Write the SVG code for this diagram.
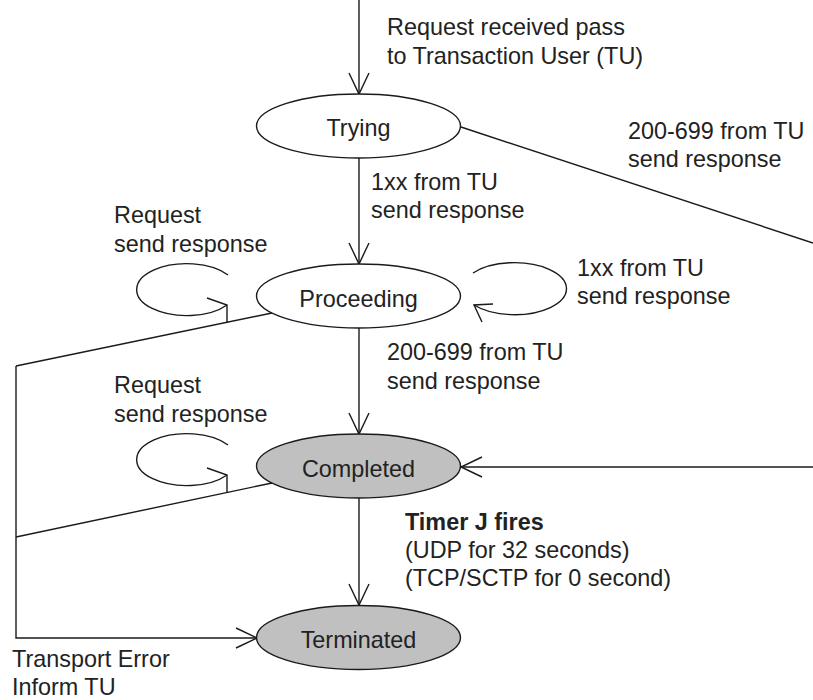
<svg xmlns="http://www.w3.org/2000/svg" width="813" height="700" viewBox="0 0 813 700">
  <style>
    text { font-family: "Liberation Sans", Arial, sans-serif; font-size: 23.4px; fill: #222; }
    .bold { font-weight: bold; }
    .state { fill: #fff; stroke: #1a1a1a; stroke-width: 1.4; }
    .state.final { fill: #c0c0c0; }
    .edge { fill: none; stroke: #1a1a1a; stroke-width: 1.4; }
    .head { fill: none; stroke: #1a1a1a; stroke-width: 1.4; stroke-linejoin: miter; }
  </style>
  <defs>
    <marker id="open-arrow" markerUnits="userSpaceOnUse" markerWidth="24" markerHeight="24" viewBox="-23 -12 24 24" refX="0" refY="0" orient="auto" overflow="visible">
      <path d="M-21,-10 L0,0 L-21,10" class="head"/>
    </marker>
  </defs>

  <!-- transitions -->
  <g id="connectors">
    <!-- entry -->
    <line class="edge" x1="359" y1="0" x2="359" y2="94" marker-end="url(#open-arrow)"/>
    <!-- Trying -> Proceeding -->
    <line class="edge" x1="359" y1="158" x2="359" y2="264" marker-end="url(#open-arrow)"/>
    <!-- Proceeding -> Completed -->
    <line class="edge" x1="359" y1="328" x2="359" y2="434" marker-end="url(#open-arrow)"/>
    <!-- Completed -> Terminated -->
    <line class="edge" x1="359" y1="498" x2="359" y2="605" marker-end="url(#open-arrow)"/>
    <!-- Trying -> Completed (final response) -->
    <line class="edge" x1="461" y1="127" x2="813" y2="243"/>
    <line class="edge" x1="813" y1="467" x2="461" y2="467" marker-end="url(#open-arrow)"/>
    <!-- transport error path -->
    <line class="edge" x1="272" y1="313" x2="16" y2="366"/>
    <line class="edge" x1="272" y1="483" x2="16" y2="537"/>
    <polyline class="edge" points="16,366 16,638 257,638" marker-end="url(#open-arrow)"/>
    <!-- self loops -->
    <path class="edge" d="M228,275 A50,26 0 1,0 227,305"/>
    <path class="head" d="M207,298 L227,305 L227,323"/>
    <path class="edge" d="M473,273 A52,26 0 1,1 474,305"/>
    <path class="head" d="M493,304 L474,305 L482,322"/>
    <path class="edge" d="M228,445 A50,26 0 1,0 227,475"/>
    <path class="head" d="M207,468 L227,475 L227,493"/>
  </g>

  <!-- states -->
  <g id="trying">
    <ellipse class="state" cx="358.5" cy="126" rx="102" ry="32"/>
    <text x="358.5" y="136" text-anchor="middle">Trying</text>
  </g>
  <g id="proceeding">
    <ellipse class="state" cx="358.5" cy="296" rx="102" ry="32"/>
    <text x="358.5" y="307" text-anchor="middle">Proceeding</text>
  </g>
  <g id="completed">
    <ellipse class="state final" cx="358.5" cy="466" rx="102" ry="32"/>
    <text x="358.5" y="477" text-anchor="middle">Completed</text>
  </g>
  <g id="terminated">
    <ellipse class="state final" cx="358.5" cy="637.5" rx="102" ry="32"/>
    <text x="358.5" y="648" text-anchor="middle">Terminated</text>
  </g>

  <!-- transition labels -->
  <g id="labels">
    <text x="387" y="35">Request received pass</text>
    <text x="387" y="64">to Transaction User (TU)</text>
    <text x="628" y="139">200-699 from TU</text>
    <text x="628" y="167">send response</text>
    <text x="371" y="190">1xx from TU</text>
    <text x="371" y="218">send response</text>
    <text x="114" y="223">Request</text>
    <text x="114" y="252">send response</text>
    <text x="577" y="276">1xx from TU</text>
    <text x="577" y="304">send response</text>
    <text x="387" y="360">200-699 from TU</text>
    <text x="387" y="389">send response</text>
    <text x="114" y="393">Request</text>
    <text x="114" y="422">send response</text>
    <text class="bold" x="405" y="530">Timer J fires</text>
    <text x="405" y="558">(UDP for 32 seconds)</text>
    <text x="405" y="586">(TCP/SCTP for 0 second)</text>
    <text x="12" y="667">Transport Error</text>
    <text x="12" y="695">Inform TU</text>
  </g>
</svg>
